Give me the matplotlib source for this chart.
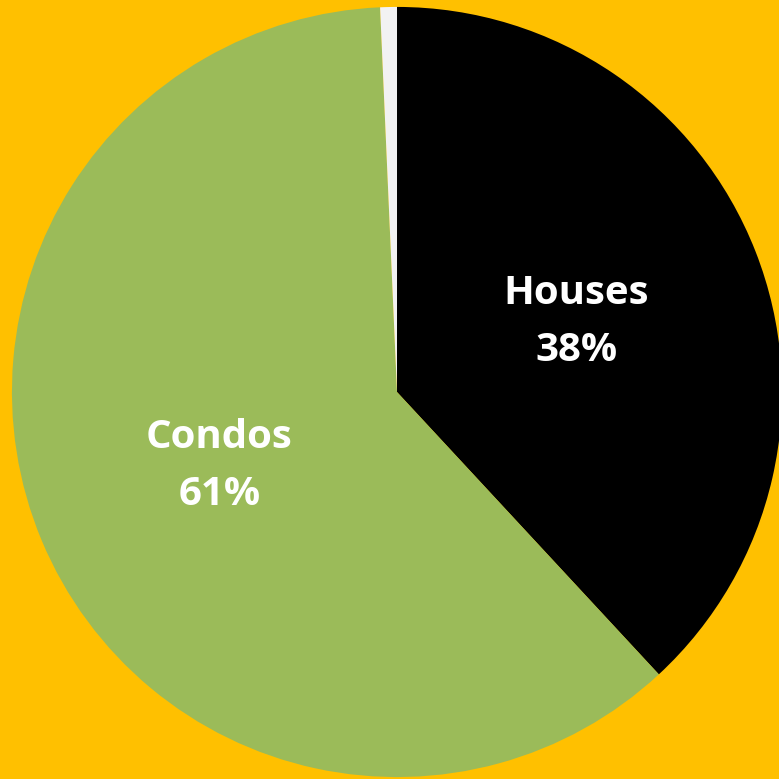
import matplotlib.pyplot as plt

# dati del grafico
categorie = ['Houses', 'Condos', 'Other']
valori = [38.1, 61.2, 0.7]
etichette = ['Houses\n38%', 'Condos\n61%', '']
colori = ['#000000', '#9BBB59', '#F2F2F2']

fig = plt.figure(figsize=(7.79, 7.79), dpi=100, facecolor='#FFC000')
ax = fig.add_axes([0, 0, 1, 1])
ax.set_facecolor('#FFC000')

wedges, testi = ax.pie(valori, colors=colori, startangle=90, counterclock=False,
                       labels=etichette, labeldistance=0.5, radius=1.0,
                       wedgeprops={'linewidth': 0})

for t in testi:
    t.set_color('white')
    t.set_fontsize(29)
    t.set_fontweight('bold')
    t.set_family('Open Sans')
    t.set_horizontalalignment('center')
    t.set_verticalalignment('center')
    t.set_multialignment('center')
    t.set_linespacing(1.6)

ax.set_xlim(-1.031, 0.992)
ax.set_ylim(-1.005, 1.018)
ax.set_aspect('equal')
ax.axis('off')

fig.savefig('out.png', dpi=100, facecolor='#FFC000')
